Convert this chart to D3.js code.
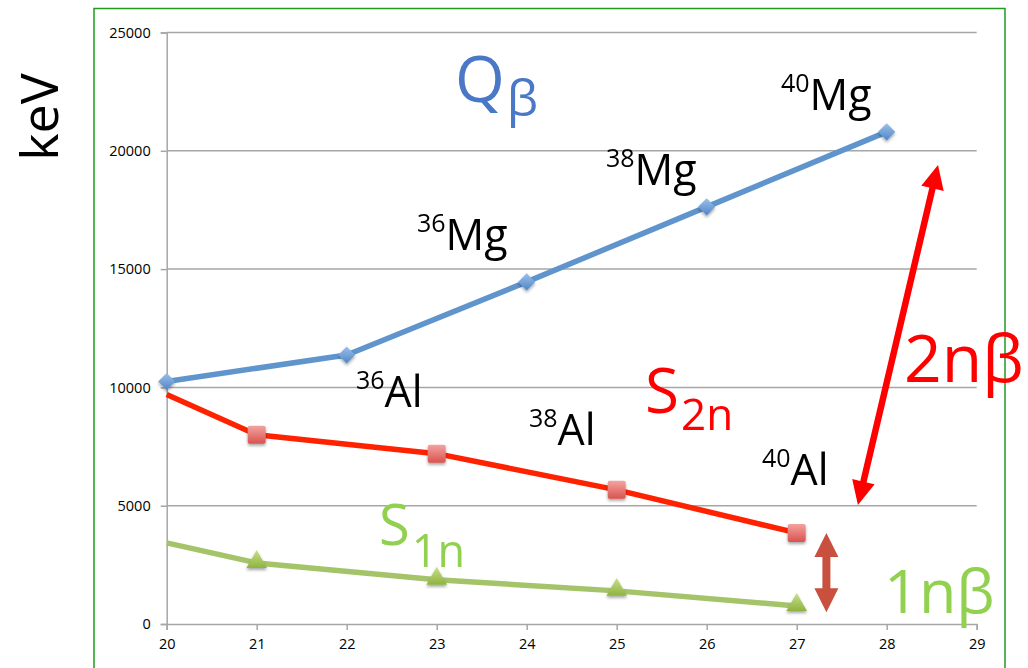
<!DOCTYPE html>
<html>
<head>
<meta charset="utf-8">
<script src="https://cdn.jsdelivr.net/npm/d3@7"></script>
<style>
  html, body { margin: 0; padding: 0; background: #fff; }
  svg { display: block; font-family: "Open Sans", "DejaVu Sans", sans-serif; }
</style>
</head>
<body>
<svg id="chart" width="1028" height="668"></svg>
<script>
// ---- data ----
const xTicks = [20, 21, 22, 23, 24, 25, 26, 27, 28, 29];
const yTicks = [0, 5000, 10000, 15000, 20000, 25000];

const qbetaX = [20, 22, 24, 26, 28];
const qbetaY = [10250, 11370, 14460, 17630, 20800];

const s2nX = [20, 21, 23, 25, 27];
const s2nY = [9700, 8000, 7200, 5670, 3850];
const s2nMarked = [false, true, true, true, true];

const s1nX = [20, 21, 23, 25, 27];
const s1nY = [3430, 2580, 1870, 1400, 760];
const s1nMarked = [false, true, true, true, true];

const mgLabels = ["36", "38", "40"];
const alLabels = ["36", "38", "40"];

// ---- layout ----
const svg = d3.select("#chart");
const x = d3.scaleLinear().domain([20, 29]).range([166.7, 976.7]);
const y = d3.scaleLinear().domain([0, 25000]).range([624, 32.5]);

const defs = svg.append("defs");
function grad(id, c1, c2) {
  const g = defs.append("linearGradient").attr("id", id)
    .attr("x1", 0).attr("y1", 0).attr("x2", 0).attr("y2", 1);
  g.append("stop").attr("offset", "0%").attr("stop-color", c1);
  g.append("stop").attr("offset", "100%").attr("stop-color", c2);
}
grad("gBlue", "#9cc0ec", "#4f86c6");
grad("gRed", "#f3a3a0", "#d9534f");
grad("gGreen", "#c7e08a", "#8fb33f");
const sh = defs.append("filter").attr("id", "shadow")
  .attr("x", "-50%").attr("y", "-50%").attr("width", "200%").attr("height", "200%");
sh.append("feDropShadow").attr("dx", 0).attr("dy", 2).attr("stdDeviation", 1.5)
  .attr("flood-color", "#000").attr("flood-opacity", 0.35);

// frame
svg.append("rect").attr("x", 94).attr("y", 8.5).attr("width", 911).attr("height", 700)
  .attr("fill", "none").attr("stroke", "#1f9a1f").attr("stroke-width", 1.5);

// gridlines
svg.append("g").selectAll("line").data(yTicks.filter(d => d > 0)).join("line")
  .attr("x1", x(20)).attr("x2", x(29))
  .attr("y1", d => y(d)).attr("y2", d => y(d))
  .attr("stroke", "#a6a6a6").attr("stroke-width", 1.5);

// y axis
const yAxis = svg.append("g").attr("transform", `translate(${x(20)},0)`)
  .call(d3.axisLeft(y).tickValues(yTicks).tickSize(6).tickPadding(10).tickFormat(d3.format("d")));
yAxis.select(".domain").attr("stroke", "#a6a6a6").attr("stroke-width", 1.5);
yAxis.selectAll(".tick line").attr("stroke", "#a6a6a6").attr("stroke-width", 1.5);
yAxis.selectAll("text").attr("font-size", 14.5).attr("fill", "#000")
  .attr("font-family", "Open Sans, sans-serif");

// x axis
const xAxis = svg.append("g").attr("transform", `translate(0,${y(0)})`)
  .call(d3.axisBottom(x).tickValues(xTicks).tickSize(6).tickPadding(9).tickFormat(d3.format("d")));
xAxis.select(".domain").attr("stroke", "#a6a6a6").attr("stroke-width", 1.5);
xAxis.selectAll(".tick line").attr("stroke", "#a6a6a6").attr("stroke-width", 1.5);
xAxis.selectAll("text").attr("font-size", 14.5).attr("fill", "#000")
  .attr("font-family", "Open Sans, sans-serif");

// series lines
const line = d3.line().x(d => x(d[0])).y(d => y(d[1]));
const zip = (a, b) => a.map((v, i) => [v, b[i]]);

svg.append("path").datum(zip(s1nX, s1nY)).attr("d", line)
  .attr("fill", "none").attr("stroke", "#a5c46a").attr("stroke-width", 5.5).attr("stroke-linejoin", "round");
svg.append("path").datum(zip(s2nX, s2nY)).attr("d", line)
  .attr("fill", "none").attr("stroke", "#ff2200").attr("stroke-width", 5.5).attr("stroke-linejoin", "round");
svg.append("path").datum(zip(qbetaX, qbetaY)).attr("d", line)
  .attr("fill", "none").attr("stroke", "#5f95cc").attr("stroke-width", 5.5).attr("stroke-linejoin", "round");

// markers
const mk = svg.append("g").attr("filter", "url(#shadow)");
mk.selectAll(".tri").data(zip(s1nX, s1nY).filter((d, i) => s1nMarked[i])).join("path")
  .attr("d", d3.symbol().type(d3.symbolTriangle).size(185))
  .attr("transform", d => `translate(${x(d[0])},${y(d[1]) - 1})`)
  .attr("fill", "url(#gGreen)");
mk.selectAll(".sq").data(zip(s2nX, s2nY).filter((d, i) => s2nMarked[i])).join("rect")
  .attr("x", d => x(d[0]) - 9).attr("y", d => y(d[1]) - 9)
  .attr("width", 18).attr("height", 18).attr("rx", 2)
  .attr("fill", "url(#gRed)");
mk.selectAll(".dia").data(zip(qbetaX, qbetaY)).join("path")
  .attr("d", d3.symbol().type(d3.symbolDiamond2).size(185))
  .attr("transform", d => `translate(${x(d[0])},${y(d[1])})`)
  .attr("fill", "url(#gBlue)");

// keV
svg.append("text").attr("transform", "translate(58,117) rotate(-90)")
  .attr("text-anchor", "middle").attr("font-size", 52).attr("fill", "#000").text("keV");

// isotope labels
function iso(sup, main, sx, baseline) {
  const t = svg.append("text").attr("x", sx).attr("y", baseline).attr("fill", "#000");
  t.append("tspan").attr("font-size", 25).attr("dy", -18).text(sup);
  t.append("tspan").attr("font-size", 43).attr("dy", 18).text(main);
}
iso(mgLabels[0], "Mg", 417, 250);
iso(mgLabels[1], "Mg", 606, 185);
iso(mgLabels[2], "Mg", 781, 110);
iso(alLabels[0], "Al", 356, 407);
iso(alLabels[1], "Al", 529, 445);
iso(alLabels[2], "Al", 762, 485);

// symbol labels
function symLabel(main, sub, sx, baseline, mainSize, subSize, subDy, color) {
  const t = svg.append("text").attr("x", sx).attr("y", baseline).attr("fill", color);
  t.append("tspan").attr("font-size", mainSize).text(main);
  t.append("tspan").attr("font-size", subSize).attr("dx", 2).attr("dy", subDy).text(sub);
}
symLabel("Q", "β", 455, 102, 64, 50, 14, "#4a78c6");
symLabel("S", "2n", 645, 413, 62, 44, 17, "#ff0000");
symLabel("S", "1n", 379, 545, 56, 45, 22, "#92d050");

svg.append("text").attr("x", 904).attr("y", 382).attr("font-size", 66).attr("fill", "#ff0000").text("2nβ");
svg.append("text").attr("x", 884).attr("y", 613).attr("font-size", 61).attr("fill", "#92d050").text("1nβ");

// arrows
function dblArrow(x1, y1, x2, y2, w, hw, hl, color) {
  const dx = x2 - x1, dy = y2 - y1, L = Math.hypot(dx, dy);
  const ux = dx / L, uy = dy / L, px = -uy, py = ux;
  const pts = [
    [x1, y1],
    [x1 + ux * hl + px * hw, y1 + uy * hl + py * hw],
    [x1 + ux * hl + px * w / 2, y1 + uy * hl + py * w / 2],
    [x2 - ux * hl + px * w / 2, y2 - uy * hl + py * w / 2],
    [x2 - ux * hl + px * hw, y2 - uy * hl + py * hw],
    [x2, y2],
    [x2 - ux * hl - px * hw, y2 - uy * hl - py * hw],
    [x2 - ux * hl - px * w / 2, y2 - uy * hl - py * w / 2],
    [x1 + ux * hl - px * w / 2, y1 + uy * hl - py * w / 2],
    [x1 + ux * hl - px * hw, y1 + uy * hl - py * hw]
  ];
  svg.append("polygon").attr("points", pts.map(p => p.join(",")).join(" ")).attr("fill", color);
}
dblArrow(x(27.68), y(5030), x(28.57), y(19400), 6.5, 11.5, 24, "#ff0000");
dblArrow(x(27.33), y(3850), x(27.33), y(500), 8, 12, 24, "#c9503f");
</script>
</body>
</html>
